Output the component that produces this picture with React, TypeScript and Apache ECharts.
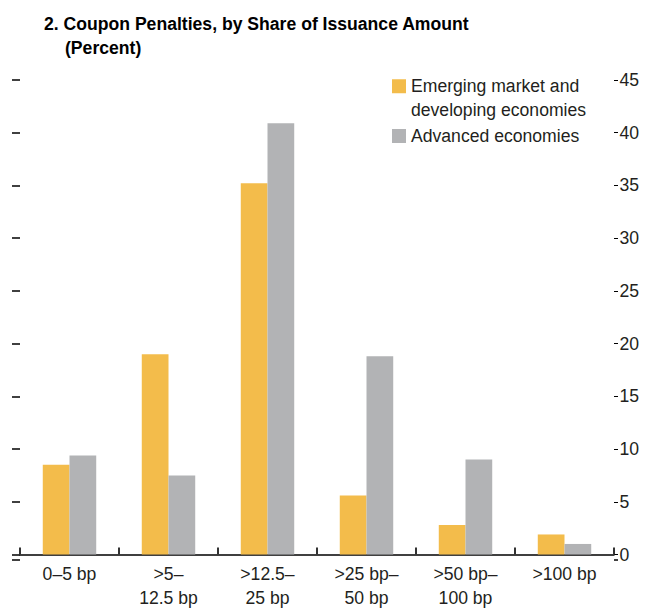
import React, { useEffect, useRef } from "react";
import * as echarts from "echarts";

const categories = ["0–5 bp", ">5–\n12.5 bp", ">12.5–\n25 bp", ">25 bp–\n50 bp", ">50 bp–\n100 bp", ">100 bp"];
const emergingValues = [8.5, 19.0, 35.2, 5.6, 2.8, 1.9];
const advancedValues = [9.4, 7.5, 40.9, 18.8, 9.0, 1.0];
const seriesNames = ["Emerging market and developing economies", "Advanced economies"];
const legendLines = ["Emerging market and", "developing economies"];
const titleText = "2. Coupon Penalties, by Share of Issuance Amount";
const subtitleText = "(Percent)";
const yMin = 0;
const yMax = 45;
const yInterval = 5;

const FONT = "'Liberation Sans', Arial, sans-serif";
const FS = 17.6;
const LH = 23.5;
const YELLOW = "#F3BC4B";
const GRAY = "#B2B3B5";
const INK = "#231F20";

export default function App() {
  const ref = useRef<HTMLDivElement>(null);
  useEffect(() => {
    if (!ref.current) return;
    const chart = echarts.init(ref.current, null, { renderer: "svg" });
    chart.setOption({
      animation: false,
      backgroundColor: "#fff",
      title: [
        {
          text: titleText,
          left: 44,
          top: 13,
          padding: 0,
          textStyle: { fontFamily: FONT, fontWeight: "bold", fontSize: 17.6, color: "#000", lineHeight: 22 },
        },
        {
          text: subtitleText,
          left: 65,
          top: 37,
          padding: 0,
          textStyle: { fontFamily: FONT, fontWeight: "bold", fontSize: 17.6, color: "#000", lineHeight: 22 },
        },
      ],
      legend: [
        {
          data: [seriesNames[0]],
          left: 392,
          top: 89 - (LH * 3) / 2,
          padding: 0,
          itemWidth: 14,
          itemHeight: 14,
          itemGap: 0,
          icon: "rect",
          selectedMode: false,
          formatter: () => `{pad| }\n{t|${legendLines[0]}}\n{t|${legendLines[1]}}`,
          textStyle: {
            fontFamily: FONT,
            fontSize: FS,
            color: INK,
            rich: {
              pad: { fontFamily: FONT, fontSize: FS, lineHeight: LH },
              t: { fontFamily: FONT, fontSize: FS, color: INK, lineHeight: LH },
            },
          },
        },
        {
          data: [seriesNames[1]],
          left: 392,
          top: 136 - LH / 2,
          padding: 0,
          itemWidth: 14,
          itemHeight: 14,
          icon: "rect",
          selectedMode: false,
          textStyle: { fontFamily: FONT, fontSize: FS, color: INK, lineHeight: LH },
        },
      ],
      grid: { left: 20, right: 35, top: 80, bottom: 50, containLabel: false },
      xAxis: {
        type: "category",
        data: categories,
        axisLine: { show: true, lineStyle: { color: "#000", width: 1.5 } },
        axisTick: { show: true, inside: true, length: 7, alignWithLabel: false, lineStyle: { color: "#333", width: 2 } },
        axisLabel: { fontFamily: FONT, fontSize: FS, color: INK, lineHeight: 24, margin: 7.5, interval: 0 },
      },
      yAxis: [
        {
          type: "value",
          position: "right",
          min: yMin,
          max: yMax,
          interval: yInterval,
          axisLine: { show: false },
          axisTick: { show: true, length: 4, lineStyle: { color: "#000", width: 1 } },
          axisLabel: { fontFamily: FONT, fontSize: FS, color: INK, margin: 5.5 },
          splitLine: { show: false },
        },
        {
          type: "value",
          position: "left",
          min: yMin,
          max: yMax,
          interval: yInterval,
          axisLine: { show: false },
          axisTick: { show: true, length: 8, lineStyle: { color: "#000", width: 1.5 } },
          axisLabel: { show: false },
          splitLine: { show: false },
        },
      ],
      graphic: [
        { type: "line", shape: { x1: 12, y1: 560, x2: 20, y2: 560 }, style: { stroke: "#000", lineWidth: 1.5 } },
        { type: "line", shape: { x1: 614, y1: 560, x2: 618, y2: 560 }, style: { stroke: "#000", lineWidth: 1.5 } },
      ],
      series: [
        {
          name: seriesNames[0],
          type: "bar",
          data: emergingValues,
          itemStyle: { color: YELLOW },
          barGap: "0%",
          barCategoryGap: "46%",
        },
        {
          name: seriesNames[1],
          type: "bar",
          data: advancedValues,
          itemStyle: { color: GRAY },
          barGap: "0%",
          barCategoryGap: "46%",
        },
      ],
    });
    return () => chart.dispose();
  }, []);
  return <div ref={ref} style={{ width: 649, height: 610, position: "fixed", left: 0, top: 0 }} />;
}
